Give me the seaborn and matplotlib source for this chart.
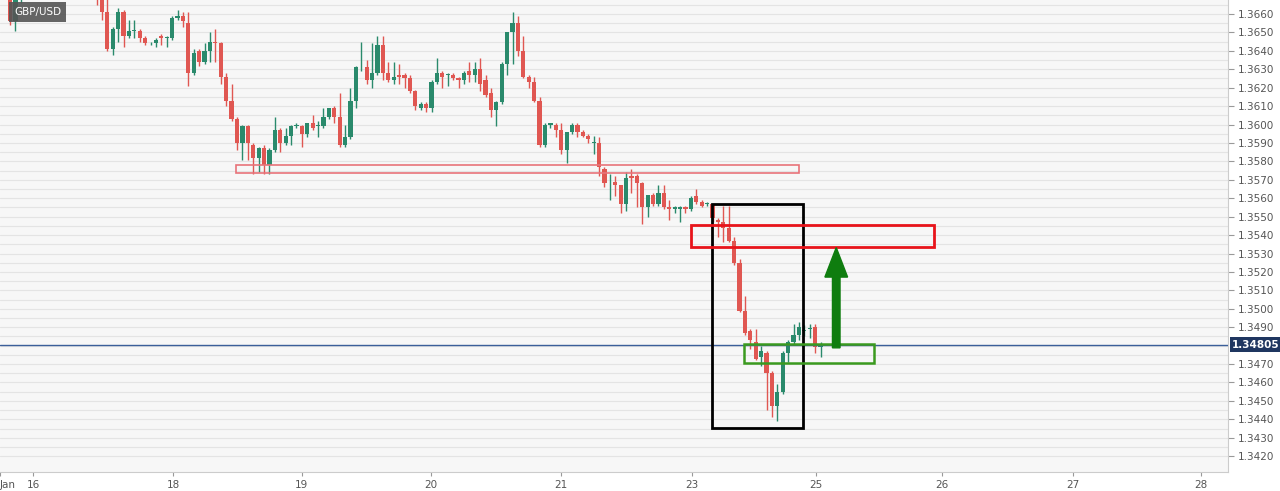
import numpy as np
import pandas as pd
import matplotlib
matplotlib.use("Agg")
import matplotlib.pyplot as plt
import seaborn as sns
from matplotlib.patches import Rectangle, FancyArrow

# hourly GBP/USD candles (first ones sit above the visible range)
opens = [1.3668, 1.3656, 1.3670, 1.3675, 1.3680, 1.3684, 1.3682, 1.3686, 1.3688, 1.3685,
         1.3683, 1.3686, 1.3684, 1.3680, 1.3682, 1.3679, 1.3676,
         1.3668, 1.3661, 1.3641, 1.3652, 1.3661, 1.3648, 1.3651, 1.3651, 1.3647, 1.3644,
         1.3644, 1.3648, 1.3647, 1.3647, 1.3658, 1.3659, 1.3655, 1.3628, 1.3640, 1.3634, 1.3640,
         1.3645, 1.3644, 1.3626, 1.3613, 1.3603, 1.3590, 1.3599, 1.3589, 1.3582, 1.3587,
         1.3578, 1.3586, 1.3597, 1.3590, 1.3594, 1.3599, 1.3599, 1.3595, 1.3601, 1.3599,
         1.3599, 1.3604, 1.3609, 1.3604, 1.3589, 1.3593, 1.3613, 1.3631, 1.3631, 1.3624,
         1.3628, 1.3643, 1.3628, 1.3624, 1.3627, 1.3627, 1.3625, 1.3618, 1.3609, 1.3611,
         1.3609, 1.3623, 1.3628, 1.3627, 1.3627, 1.3625, 1.3624, 1.3629, 1.3627, 1.3630,
         1.3624, 1.3617, 1.3608, 1.3612, 1.3633, 1.3650, 1.3655, 1.3640, 1.3626, 1.3623,
         1.3613, 1.3589, 1.3600, 1.3600, 1.3597, 1.3586, 1.3596, 1.3600, 1.3596, 1.3594,
         1.3590, 1.3590, 1.3576, 1.3568, 1.3569, 1.3567, 1.3557, 1.3572, 1.3572, 1.3568,
         1.3555, 1.3562, 1.3557, 1.3563, 1.3555, 1.3554, 1.3554, 1.3555, 1.3554, 1.3561,
         1.3558, 1.3557, 1.3557, 1.3548, 1.3547, 1.3544, 1.3537, 1.3525, 1.3499, 1.3488,
         1.3482, 1.3474, 1.3476, 1.3465, 1.3447, 1.3455, 1.3476, 1.3482, 1.3486, 1.3488,
         1.3489, 1.3490, 1.3479]
highs = [1.3672, 1.3670, 1.3676, 1.3684, 1.3688, 1.3690, 1.3688, 1.3692, 1.3693, 1.3690,
         1.3689, 1.3690, 1.3688, 1.3686, 1.3685, 1.3683, 1.3680,
         1.3672, 1.3668, 1.3653, 1.3663, 1.3662, 1.3657, 1.3657, 1.3652, 1.3648, 1.3645,
         1.3647, 1.3649, 1.3648, 1.3659, 1.3662, 1.3661, 1.3661, 1.3641, 1.3641, 1.3644,
         1.3650, 1.3652, 1.3645, 1.3628, 1.3622, 1.3604, 1.3600, 1.3600, 1.3590, 1.3588,
         1.3589, 1.3587, 1.3604, 1.3598, 1.3598, 1.3600, 1.3601, 1.3600, 1.3601, 1.3605,
         1.3602, 1.3609, 1.3609, 1.3610, 1.3617, 1.3600, 1.3620, 1.3632, 1.3645, 1.3635,
         1.3644, 1.3648, 1.3648, 1.3634, 1.3634, 1.3633, 1.3628, 1.3627, 1.3619, 1.3612,
         1.3612, 1.3624, 1.3636, 1.3629, 1.3628, 1.3628, 1.3626, 1.3629, 1.3634, 1.3634,
         1.3636, 1.3627, 1.3620, 1.3613, 1.3634, 1.3650, 1.3661, 1.3659, 1.3648, 1.3627,
         1.3626, 1.3615, 1.3601, 1.3601, 1.3601, 1.3601, 1.3596, 1.3601, 1.3601, 1.3597,
         1.3595, 1.3594, 1.3593, 1.3577, 1.3573, 1.3572, 1.3567, 1.3574, 1.3576, 1.3573,
         1.3569, 1.3562, 1.3563, 1.3567, 1.3567, 1.3559, 1.3556, 1.3556, 1.3556, 1.3561,
         1.3565, 1.3559, 1.3558, 1.3557, 1.3549, 1.3556, 1.3556, 1.3539, 1.3527, 1.3507,
         1.3489, 1.3489, 1.3480, 1.3477, 1.3466, 1.3459, 1.3477, 1.3483, 1.3492, 1.3493,
         1.3491, 1.3492, 1.3492, 1.3482]
lows = [1.3654, 1.3651, 1.3666, 1.3670, 1.3676, 1.3679, 1.3678, 1.3681, 1.3682, 1.3680,
        1.3679, 1.3681, 1.3677, 1.3677, 1.3676, 1.3674, 1.3665,
        1.3657, 1.3640, 1.3638, 1.3645, 1.3642, 1.3647, 1.3647, 1.3645, 1.3643, 1.3643,
        1.3642, 1.3643, 1.3642, 1.3646, 1.3657, 1.3653, 1.3621, 1.3627, 1.3632, 1.3633,
        1.3634, 1.3634, 1.3622, 1.3610, 1.3602, 1.3586, 1.3581, 1.3581, 1.3573, 1.3574,
        1.3573, 1.3573, 1.3585, 1.3585, 1.3589, 1.3589, 1.3598, 1.3588, 1.3593, 1.3597,
        1.3593, 1.3598, 1.3603, 1.3601, 1.3588, 1.3588, 1.3592, 1.3609, 1.3629, 1.3622,
        1.3620, 1.3627, 1.3624, 1.3623, 1.3622, 1.3622, 1.3620, 1.3617, 1.3608, 1.3608,
        1.3607, 1.3607, 1.3622, 1.3620, 1.3621, 1.3624, 1.3620, 1.3622, 1.3623, 1.3623,
        1.3618, 1.3615, 1.3604, 1.3599, 1.3611, 1.3627, 1.3633, 1.3637, 1.3625, 1.3620,
        1.3612, 1.3588, 1.3588, 1.3598, 1.3593, 1.3584, 1.3579, 1.3595, 1.3593, 1.3593,
        1.3590, 1.3584, 1.3572, 1.3566, 1.3559, 1.3561, 1.3552, 1.3553, 1.3563, 1.3555,
        1.3546, 1.3550, 1.3556, 1.3556, 1.3554, 1.3548, 1.3552, 1.3547, 1.3552, 1.3553,
        1.3557, 1.3555, 1.3556, 1.3547, 1.3539, 1.3536, 1.3536, 1.3524, 1.3498, 1.3486,
        1.3478, 1.3472, 1.3469, 1.3445, 1.3441, 1.3439, 1.3454, 1.3471, 1.3481, 1.3483,
        1.3485, 1.3484, 1.3476, 1.3474]
closes = [1.3656, 1.3668, 1.3675, 1.3680, 1.3684, 1.3682, 1.3686, 1.3688, 1.3685, 1.3683,
          1.3686, 1.3684, 1.3680, 1.3682, 1.3679, 1.3676, 1.3668,
          1.3661, 1.3641, 1.3652, 1.3661, 1.3648, 1.3651, 1.3651, 1.3647, 1.3644, 1.3644,
          1.3646, 1.3647, 1.3647, 1.3658, 1.3659, 1.3656, 1.3628, 1.3639, 1.3634, 1.3640,
          1.3645, 1.3644, 1.3626, 1.3613, 1.3603, 1.3590, 1.3599, 1.3590, 1.3582, 1.3587,
          1.3578, 1.3586, 1.3597, 1.3590, 1.3594, 1.3599, 1.3599, 1.3595, 1.3601, 1.3598,
          1.3599, 1.3604, 1.3609, 1.3604, 1.3589, 1.3593, 1.3613, 1.3631, 1.3631, 1.3624,
          1.3628, 1.3643, 1.3628, 1.3624, 1.3626, 1.3626, 1.3625, 1.3618, 1.3610, 1.3611,
          1.3609, 1.3623, 1.3628, 1.3626, 1.3627, 1.3625, 1.3624, 1.3628, 1.3627, 1.3630,
          1.3622, 1.3616, 1.3608, 1.3612, 1.3633, 1.3650, 1.3655, 1.3640, 1.3626, 1.3623,
          1.3613, 1.3589, 1.3600, 1.3601, 1.3597, 1.3586, 1.3596, 1.3600, 1.3596, 1.3594,
          1.3592, 1.3590, 1.3577, 1.3568, 1.3568, 1.3567, 1.3557, 1.3571, 1.3571, 1.3568,
          1.3555, 1.3562, 1.3557, 1.3563, 1.3555, 1.3554, 1.3555, 1.3555, 1.3554, 1.3560,
          1.3558, 1.3556, 1.3557, 1.3549, 1.3547, 1.3544, 1.3537, 1.3525, 1.3499, 1.3487,
          1.3483, 1.3473, 1.3477, 1.3465, 1.3447, 1.3455, 1.3476, 1.3482, 1.3486, 1.3490,
          1.3488, 1.3489, 1.3479, 1.3481]

day_labels = ["Jan", "16", "18", "19", "20", "21", "23", "25", "26", "27", "28"]
day_pos = [-1.86, 4.3, 30.2, 54.0, 77.9, 102.0, 126.2, 149.2, 172.5, 196.7, 220.4]
price_ticks = [1.3420, 1.3430, 1.3440, 1.3450, 1.3460, 1.3470, 1.3490, 1.3500,
               1.3510, 1.3520, 1.3530, 1.3540, 1.3550, 1.3560, 1.3570, 1.3580,
               1.3590, 1.3600, 1.3610, 1.3620, 1.3630, 1.3640, 1.3650, 1.3660]
last_price = 1.34805

UP, DOWN = "#2a8a6c", "#e05752"

df = pd.DataFrame({"open": opens, "high": highs, "low": lows, "close": closes})
df["idx"] = np.arange(len(df))
df["color"] = np.where(df["close"] >= df["open"], UP, DOWN)

sns.set_style("white")
plt.rcParams["font.family"] = ["DejaVu Sans"]

fig = plt.figure(figsize=(12.8, 4.91), dpi=100)
ax = fig.add_axes([0.0, 1 - 472 / 491, 1228 / 1280, 472 / 491])
ax.set_facecolor("#f7f7f7")

ax.set_xlim(-1.86, 225.4)
ax.set_ylim(1.34114, 1.36676)

# grid: major every 10 pips, minor every 5
for p in np.arange(1.3420, 1.3670, 0.0005):
    ax.axhline(p, color="#e4e4e4", lw=0.8, zorder=0)

ax.vlines(df["idx"], df["low"], df["high"], color=df["color"], lw=1.0, zorder=2)
body_lo = np.minimum(df["open"], df["close"])
body_h = np.maximum(np.abs(df["close"] - df["open"]), 0.00005)
ax.bar(df["idx"], body_h, bottom=body_lo, width=0.78, color=df["color"],
       linewidth=0, zorder=3)

ax.axhline(last_price, color="#3b5f9a", lw=1.0, zorder=4)

# annotation boxes and arrow
ax.add_patch(Rectangle((41.9, 1.35735), 104.1, 0.00043, fill=False, ec="#e8737a", lw=1.2, zorder=5))
ax.add_patch(Rectangle((129.9, 1.34352), 16.9, 0.01219, fill=False, ec="black", lw=2.0, zorder=5))
ax.add_patch(Rectangle((126.0, 1.35337), 45.0, 0.0012, fill=False, ec="#e8141b", lw=2.0, zorder=5))
ax.add_patch(Rectangle((135.8, 1.34706), 24.1, 0.00104, fill=False, ec="#3b9a1f", lw=1.8, zorder=5))
ax.add_patch(FancyArrow(152.9, 1.34788, 0, 0.00544, width=1.4, head_width=4.2,
                        head_length=0.0016, length_includes_head=True, color="#0f7d0f",
                        zorder=6))

ax.yaxis.tick_right()
ax.set_yticks(price_ticks)
ax.set_yticklabels([f"{p:.4f}" for p in price_ticks])
ax.tick_params(axis="y", length=4, color="#999999", labelsize=7.5, labelcolor="#555555", pad=3, right=True)
ax.set_xticks(day_pos)
ax.set_xticklabels(day_labels)
ax.tick_params(axis="x", length=3, color="#999999", labelsize=7.5, labelcolor="#555555", pad=3, bottom=True)
ax.get_xticklabels()[0].set_horizontalalignment("left")

for s in ["top", "left"]:
    ax.spines[s].set_visible(False)
for s in ["right", "bottom"]:
    ax.spines[s].set_color("#cccccc")

ax.text(1.0035, last_price, f"{last_price:.5f}", transform=ax.get_yaxis_transform(),
        ha="left", va="center", fontsize=7.5, color="white", fontweight="bold",
        bbox=dict(boxstyle="square,pad=0.25", fc="#1f3660", ec="none"), zorder=10, clip_on=False)
ax.text(14 / 1228, 1 - 12 / 472, "GBP/USD", transform=ax.transAxes, ha="left", va="center",
        fontsize=7.5, color="white",
        bbox=dict(boxstyle="square,pad=0.45", fc="#555555", ec="none", alpha=0.9), zorder=10)

fig.savefig("out.png", dpi=100)
